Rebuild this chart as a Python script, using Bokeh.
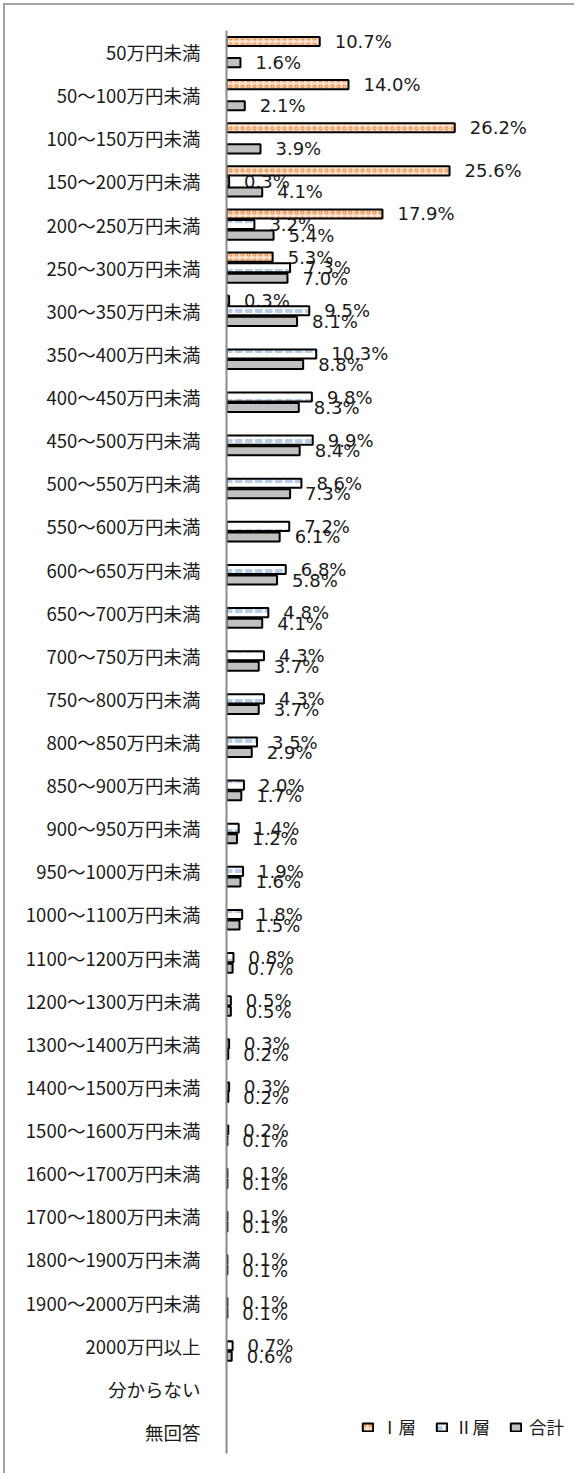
from bokeh.plotting import figure
from bokeh.models import ColumnDataSource, FactorRange, Range1d, Legend, LegendItem
from bokeh.transform import dodge
from bokeh.core.properties import value
from bokeh.embed import file_html
from bokeh.resources import INLINE

categories = [
    "50万円未満", "50～100万円未満", "100～150万円未満", "150～200万円未満",
    "200～250万円未満", "250～300万円未満", "300～350万円未満", "350～400万円未満",
    "400～450万円未満", "450～500万円未満", "500～550万円未満", "550～600万円未満",
    "600～650万円未満", "650～700万円未満", "700～750万円未満", "750～800万円未満",
    "800～850万円未満", "850～900万円未満", "900～950万円未満", "950～1000万円未満",
    "1000～1100万円未満", "1100～1200万円未満", "1200～1300万円未満", "1300～1400万円未満",
    "1400～1500万円未満", "1500～1600万円未満", "1600～1700万円未満", "1700～1800万円未満",
    "1800～1900万円未満", "1900～2000万円未満", "2000万円以上", "分からない", "無回答",
]
series_names = ["Ⅰ層", "Ⅱ層", "合計"]
tier1 = [10.7, 14.0, 26.2, 25.6, 17.9, 5.3, 0.3] + [None] * 26
tier2 = [None, None, None, 0.3, 3.2, 7.3, 9.5,
         10.3, 9.8, 9.9, 8.6, 7.2, 6.8, 4.8, 4.3, 4.3, 3.5, 2.0, 1.4, 1.9, 1.8,
         0.8, 0.5, 0.3, 0.3, 0.2,
         0.1, 0.1, 0.1, 0.1,
         0.7, None, None]
total = [1.6, 2.1, 3.9, 4.1, 5.4, 7.0, 8.1,
         8.8, 8.3, 8.4, 7.3, 6.1, 5.8, 4.1, 3.7, 3.7, 2.9, 1.7, 1.2, 1.6, 1.5,
         0.7, 0.5, 0.2, 0.2, 0.1,
         0.1, 0.1, 0.1, 0.1,
         0.6, None, None]

p = figure(width=571, height=1470, output_backend="svg", toolbar_location=None,
           y_range=FactorRange(factors=list(reversed(categories)), range_padding=0),
           x_range=Range1d(0, 39.6), x_axis_location=None,
           min_border_left=221, min_border_right=5, min_border_top=25, min_border_bottom=22)
p.margin = (3, 0, 0, 3)
p.styles = {"border-left": "2px solid #a3a3a3", "border-top": "2px solid #a3a3a3"}
p.outline_line_color = None
p.xgrid.visible = False
p.ygrid.visible = False
p.background_fill_color = "white"
p.border_fill_color = "white"

ax = p.yaxis[0]
ax.axis_line_color = "#8c8c8c"
ax.axis_line_width = 2
ax.major_tick_line_color = None
ax.minor_tick_line_color = None
ax.major_label_text_font = "Noto Sans CJK JP"
ax.major_label_text_font_size = "18.5px"
ax.major_label_text_color = "#1a1a1a"
ax.major_label_standoff = 20

styles = [
    dict(fill_color="#fde3cf", hatch_pattern="ring", hatch_color="#f08a3c", hatch_scale=6, hatch_weight=1.2),
    dict(fill_color="white", hatch_pattern="horizontal_dash", hatch_color="#b7cde6", hatch_scale=10, hatch_weight=4),
    dict(fill_color="#c0c0c0"),
]
offsets = [0.245, 0.0, -0.245]
renderers = []
for name, vals, st, off in zip(series_names, [tier1, tier2, total], styles, offsets):
    cats = [c for c, v in zip(categories, vals) if v is not None]
    vs = [v for v in vals if v is not None]
    src = ColumnDataSource(dict(cat=cats, val=vs, lab=[f"{v:.1f}%" for v in vs]))
    r = p.hbar(y=dodge("cat", off, range=p.y_range), left=0, right="val", height=0.21,
               source=src, line_color="black", line_width=2, **st)
    renderers.append(r)
    p.text(x="val", y=dodge("cat", off, range=p.y_range), text="lab", source=src,
           x_offset=15, text_baseline="middle", text_align="left",
           text_font=value("DejaVu Sans"), text_font_size="18px", text_color="#1a1a1a")

legend = Legend(items=[LegendItem(label=n, renderers=[r]) for n, r in zip(series_names, renderers)],
                orientation="horizontal", location=(135, 14),
                glyph_width=13, glyph_height=10, label_standoff=7, spacing=19,
                padding=0, margin=0, border_line_color=None, background_fill_alpha=0,
                label_text_font="Noto Sans CJK JP", label_text_font_size="17.5px",
                label_text_color="#1a1a1a")
p.add_layout(legend, "center")

open("out.html", "w").write(file_html(p, INLINE))
